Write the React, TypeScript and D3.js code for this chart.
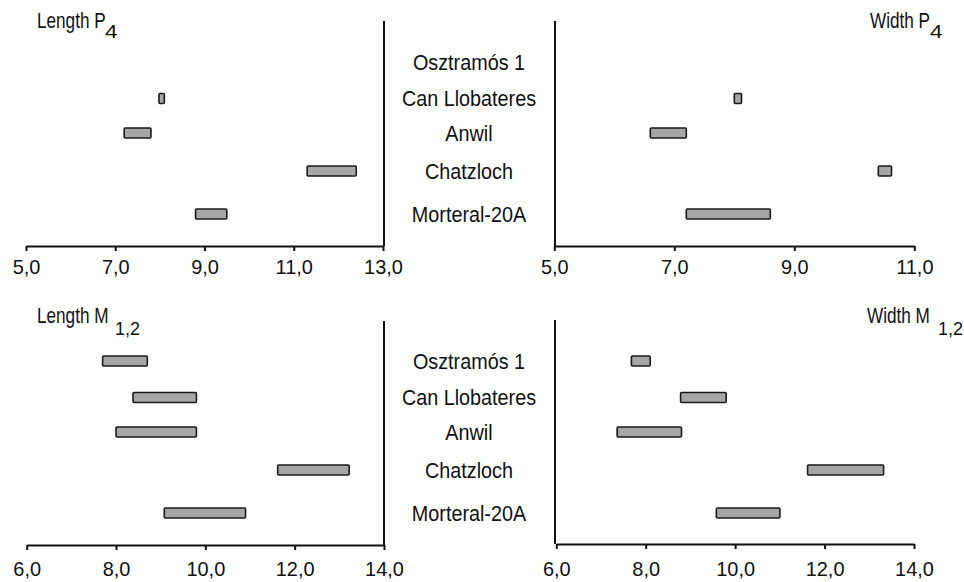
import React, { useEffect, useRef } from "react";
import * as d3 from "d3";

const categories = ["Osztramós 1", "Can Llobateres", "Anwil", "Chatzloch", "Morteral-20A"];

const lengthP4Min: (number | null)[] = [null, 7.98, 7.2, 11.3, 8.8];
const lengthP4Max: (number | null)[] = [null, 8.1, 7.8, 12.4, 9.5];
const widthP4Min: (number | null)[] = [null, 8.0, 6.6, 10.4, 7.2];
const widthP4Max: (number | null)[] = [null, 8.12, 7.2, 10.62, 8.6];
const lengthM12Min: (number | null)[] = [7.7, 8.38, 8.0, 11.62, 9.08];
const lengthM12Max: (number | null)[] = [8.7, 9.8, 9.8, 13.22, 10.9];
const widthM12Min: (number | null)[] = [7.68, 8.78, 7.36, 11.62, 9.58];
const widthM12Max: (number | null)[] = [8.1, 9.8, 8.8, 13.32, 11.0];

const ticksP4Length = [5, 7, 9, 11, 13];
const ticksP4Width = [5, 7, 9, 11];
const ticksM12 = [6, 8, 10, 12, 14];

const W = 964;
const H = 582;
const FONT = "'Liberation Sans', Arial, sans-serif";

const locale = d3.formatLocale({ decimal: ",", thousands: ".", grouping: [3], currency: ["", ""] });
const fmt = locale.format(".1f");

type Panel = {
  key: string;
  domain: [number, number];
  range: [number, number];
  ticks: number[];
  mins: (number | null)[];
  maxs: (number | null)[];
  top: number;
  axisY: number;
  pad: number;
  vLineX: number;
  vTop: number;
  title: string;
  sub: string;
  titleX: number;
  subX: number;
  titleY: number;
  subY: number;
};

const panels: Panel[] = [
  { key: "lp4", domain: [5, 13], range: [26, 383], ticks: ticksP4Length, mins: lengthP4Min, maxs: lengthP4Max, top: 0, axisY: 246, pad: 8, vLineX: 384, vTop: 21, title: "Length P", sub: "4", titleX: 37, subX: 105, titleY: 28, subY: 37.5 },
  { key: "wp4", domain: [5, 11], range: [554.3, 914.3], ticks: ticksP4Width, mins: widthP4Min, maxs: widthP4Max, top: 0, axisY: 246, pad: 8, vLineX: 555, vTop: 21, title: "Width P", sub: "4", titleX: 870, subX: 930, titleY: 28, subY: 37.5 },
  { key: "lm12", domain: [6, 14], range: [26.7, 384], ticks: ticksM12, mins: lengthM12Min, maxs: lengthM12Max, top: 299, axisY: 545, pad: 11, vLineX: 384, vTop: 321, title: "Length M", sub: "1,2", titleX: 37, subX: 115, titleY: 323, subY: 335 },
  { key: "wm12", domain: [6, 14], range: [556.3, 914], ticks: ticksM12, mins: widthM12Min, maxs: widthM12Max, top: 299, axisY: 544, pad: 12, vLineX: 555, vTop: 320, title: "Width M", sub: "1,2", titleX: 867, subX: 938, titleY: 323, subY: 335 },
];

const rowScale = d3.scaleOrdinal<string, number>().domain(categories).range([62, 98.5, 133, 171, 214]);

function Axis({ p }: { p: Panel }) {
  const ref = useRef<SVGGElement>(null);
  useEffect(() => {
    const x = d3.scaleLinear().domain(p.domain).range(p.range);
    const axis = d3.axisBottom(x).tickValues(p.ticks).tickFormat((d) => fmt(d as number)).tickSize(5).tickSizeOuter(0).tickPadding(p.pad);
    const g = d3.select(ref.current!);
    g.call(axis as any);
    g.select(".domain").attr("stroke", "#111").attr("stroke-width", 2);
    g.selectAll(".tick line").attr("stroke", "#111").attr("stroke-width", 2);
    g.selectAll(".tick text")
      .attr("fill", "#111")
      .attr("font-size", 21)
      .attr("font-family", FONT)
      .attr("transform", "scale(0.95,1)");
  }, [p]);
  return <g ref={ref} transform={`translate(0,${p.axisY})`} />;
}

export default function App() {
  return (
    <svg width={W} height={H} style={{ position: "absolute", left: 0, top: 0, background: "#fff" }} fontFamily={FONT}>
      <rect width={W} height={H} fill="#fff" />
      {panels.map((p) => {
        const x = d3.scaleLinear().domain(p.domain).range(p.range);
        return (
          <g key={p.key}>
            <line x1={p.vLineX} x2={p.vLineX} y1={p.vTop} y2={p.axisY} stroke="#111" strokeWidth={2} />
            <Axis p={p} />
            {categories.map((c, i) => {
              const a = p.mins[i];
              const b = p.maxs[i];
              if (a == null || b == null) return null;
              const cy = p.top + rowScale(c);
              return (
                <rect key={c} x={x(a)} y={cy - 5} width={x(b) - x(a)} height={10} rx={1}
                  fill="#a6a6a6" stroke="#1a1a1a" strokeWidth={1.6} />
              );
            })}
            <text transform={`translate(${p.titleX},${p.titleY}) scale(0.78,1)`} fontSize={22} fill="#111">
              {p.title}
            </text>
            <text transform={`translate(${p.subX},${p.subY}) scale(${p.sub.length > 1 ? 1 : 1.25},1)`} fontSize={18} fill="#111">
              {p.sub}
            </text>
          </g>
        );
      })}
      {[0, 299].map((off) =>
        categories.map((c) => (
          <text key={off + c} transform={`translate(469,${off + rowScale(c)}) scale(0.9,1)`} dy="0.36em" textAnchor="middle" fontSize={22} fill="#111">
            {c}
          </text>
        ))
      )}
    </svg>
  );
}
